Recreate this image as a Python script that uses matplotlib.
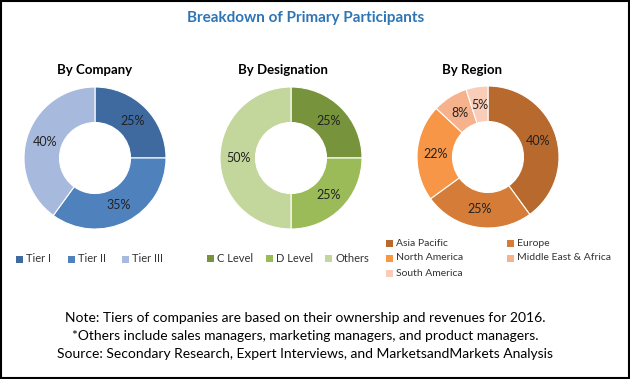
import matplotlib
matplotlib.use("Agg")
import matplotlib.pyplot as plt
import matplotlib.patches as mpatches

plt.rcParams['font.family'] = ['Lato', 'DejaVu Sans']

# --------------------------------------------------------------------
# -- DONNEES
# --------------------------------------------------------------------
company_labels = ['Tier I', 'Tier II', 'Tier III']
company_values = [25, 35, 40]
company_colors = ['#3e6aa0', '#4f81bd', '#a7b9dc']

designation_labels = ['C Level', 'D Level', 'Others']
designation_values = [25, 25, 50]
designation_colors = ['#77933c', '#9bbb59', '#c3d69b']

region_labels = ['Asia Pacific', 'Europe', 'North America',
                 'Middle East & Africa', 'South America']
region_values = [40, 25, 22, 8, 5]
region_colors = ['#b8692e', '#d47c38', '#f79646', '#f5b28c', '#f9cdb8']

notes = ['Note: Tiers of companies are based on their ownership and revenues for 2016.',
         '*Others include sales managers, marketing managers, and product managers.',
         'Source: Secondary Research, Expert Interviews, and MarketsandMarkets Analysis']

W, H = 630, 379
fig = plt.figure(figsize=(W / 100, H / 100), dpi=100)
fig.patches.append(mpatches.Rectangle((0.0015, 0.002), 0.997, 0.995,
                                      transform=fig.transFigure,
                                      fill=False, edgecolor='black', lw=1.5))

fig.text(306 / W, 1 - 18 / H, 'Breakdown of Primary Participants',
         ha='center', va='center', fontsize=11, fontweight='bold',
         color='#2e75b6')


def donut(cx, cy, tx, title, values, colors):
    size = 160
    ax = fig.add_axes([(cx - size / 2) / W, 1 - (cy + size / 2) / H,
                       size / W, size / H])
    lim = size / 2 / 71
    ax.pie(values, colors=colors, radius=1, startangle=90,
           counterclock=False,
           labels=['{}%'.format(v) for v in values],
           labeldistance=0.74,
           wedgeprops=dict(width=0.5, edgecolor='white', lw=0.8),
           textprops=dict(fontsize=9, color='#222222',
                          ha='center', va='center'))
    ax.set(xlim=(-lim, lim), ylim=(-lim, lim))
    ax.set_aspect('equal')
    ax.axis('off')
    fig.text(tx / W, 1 - 70 / H, title, ha='center', va='center',
             fontsize=9.5, fontweight='bold', color='black')


donut(95, 158, 95, 'By Company', company_values, company_colors)
donut(291, 158, 283, 'By Designation', designation_values, designation_colors)
donut(488, 157, 472, 'By Region', region_values, region_colors)


def legend_item(x, y, label, color, fs=8):
    # carré de couleur + texte, positions en pixels
    fig.patches.append(mpatches.Rectangle((x / W, 1 - (y + 3.5) / H), 7 / W, 7 / H,
                                          transform=fig.transFigure,
                                          facecolor=color, edgecolor='none'))
    fig.text((x + 10) / W, 1 - y / H, label, ha='left', va='center',
             fontsize=fs, color='#333333')


for x, lab, col in zip([16, 68, 122], company_labels, company_colors):
    legend_item(x, 259, lab, col)
for x, lab, col in zip([207, 266, 325], designation_labels, designation_colors):
    legend_item(x, 258, lab, col)
for i, (lab, col) in enumerate(zip(region_labels, region_colors)):
    legend_item(386 + 121 * (i % 2), 243 + 15 * (i // 2), lab, col, fs=7.5)

for i, line in enumerate(notes):
    fig.text(305 / W, 1 - (318 + i * 18) / H, line, ha='center', va='center',
             fontsize=10, color='black')

fig.savefig('out.png', dpi=100)
